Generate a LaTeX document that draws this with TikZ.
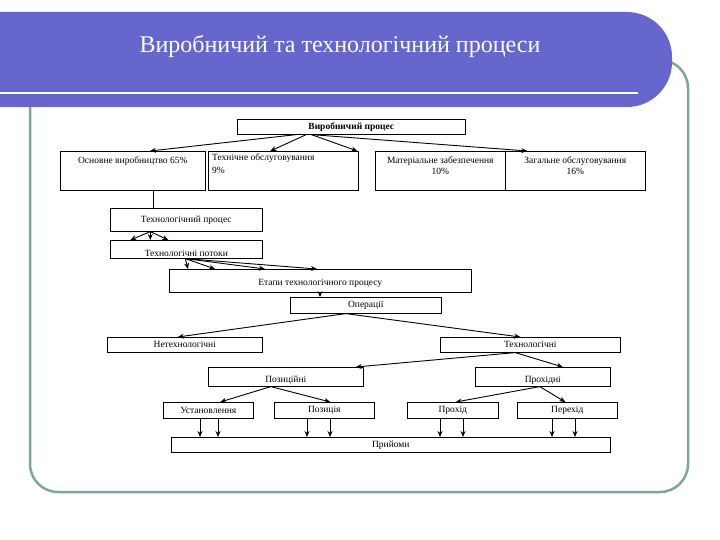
\documentclass[tikz,border=0pt]{standalone}
\usepackage{fontspec}
\setmainfont{Liberation Serif}
\usetikzlibrary{arrows.meta}
\definecolor{banner}{HTML}{6666CC}
\definecolor{frame}{HTML}{7FA59D}
\begin{document}
\begin{tikzpicture}[x=1pt,y=-1pt,
  bx/.style={draw,line width=0.6pt,font=\fontsize{9.5}{10}\selectfont,inner sep=1pt},
  tx/.style={font=\fontsize{9.5}{11}\selectfont,inner sep=1pt},
  ar/.style={-{Stealth[length=6pt,width=5pt]},line width=0.9pt}]
\useasboundingbox (0,0) rectangle (720,540);
\fill[white] (0,0) rectangle (720,540);
% frame
\draw[frame,line width=2.5pt,rounded corners=28pt] (30,60) rectangle (688,492);
% banner
\fill[banner,rounded corners=45pt] (-60,12) rectangle (672,107);
\draw[white,line width=2pt] (0,93) -- (638,93);
\node[white,font=\fontsize{24}{26}\selectfont] (title) at (340,46) {Виробничий та технологічний процеси};
% boxes
\node[bx,anchor=north west,minimum width=228,minimum height=15,font=\bfseries\fontsize{9.5}{10}\selectfont] (vp) at (237,119) {Виробничий процес};
\node[bx,anchor=north west,minimum width=145,minimum height=39] (osn) at (60,151) {};
\node[tx,anchor=north] (osnt) at ([yshift=-5pt]osn.north) {Основне виробництво 65\%};
\node[bx,anchor=north west,minimum width=150,minimum height=39] (teh) at (208,151) {};
\node[tx,anchor=north west,align=left] (teht) at ([xshift=3pt,yshift=-2pt]teh.north west) {Технічне обслуговування\\[2pt]9\%};
\node[bx,anchor=north west,minimum width=130,minimum height=39] (mat) at (375,151) {};
\node[tx,anchor=north,align=center] (matt) at ([yshift=-5pt]mat.north) {Матеріальне забезпечення\\10\%};
\node[bx,anchor=north west,minimum width=140,minimum height=39] (zag) at (505,151) {};
\node[tx,anchor=north,align=center] (zagt) at ([yshift=-5pt]zag.north) {Загальне обслуговування\\16\%};
\node[bx,anchor=north west,minimum width=152,minimum height=23] (tp) at (110,208) {Технологічний процес};
\node[bx,anchor=north west,minimum width=152,minimum height=18] (pot) at (110,240) {};
\node[tx,anchor=south] at ([yshift=1pt]pot.south) {Технологічні потоки};
\node[bx,anchor=north west,minimum width=302,minimum height=23] (et) at (169,269) {};
\node[tx,anchor=south] at ([yshift=4pt]et.south) {Етапи технологічного процесу};
\node[bx,anchor=north west,minimum width=151,minimum height=16] (op) at (290,297) {Операції};
\node[bx,anchor=north west,minimum width=155,minimum height=15] (neteh) at (107,337) {Нетехнологічні};
\node[bx,anchor=north west,minimum width=180,minimum height=15] (tehn) at (440,337) {Технологічні};
\node[bx,anchor=north west,minimum width=155,minimum height=19] (poz) at (208,367) {};
\node[tx,anchor=south] at ([yshift=1pt]poz.south) {Позиційні};
\node[bx,anchor=north west,minimum width=135,minimum height=19] (proh) at (475,367) {};
\node[tx,anchor=south] at ([yshift=1pt]proh.south) {Прохідні};
\node[bx,anchor=north west,minimum width=90,minimum height=16] (ust) at (163,402) {Установлення};
\node[bx,anchor=north west,minimum width=100,minimum height=16] (pozc) at (274,402) {Позиція};
\node[bx,anchor=north west,minimum width=91,minimum height=16] (pr) at (407,402) {Прохід};
\node[bx,anchor=north west,minimum width=100,minimum height=16] (per) at (517,402) {Перехід};
\node[bx,anchor=north west,minimum width=439,minimum height=15] (pri) at (171,437) {Прийоми};
% arrows
\draw[ar] ([xshift=-55pt]vp.south) -- (osn.north -| 150,0);
\draw[ar] ([xshift=-45pt]vp.south) -- ([xshift=-13pt]teh.north);
\draw[ar] ([xshift=-40pt]vp.south) -- ([xshift=-83pt]mat.north);
\draw[ar] ([xshift=-40pt]vp.south) -- ([xshift=-48pt]zag.north);
\draw[line width=0.6pt] (osn.south -| 153,0) -- (tp.north -| 153,0);
\draw[ar] ([xshift=-36pt]tp.south) -- ([xshift=-56pt]pot.north);
\draw[ar] ([xshift=-36pt]tp.south) -- ([xshift=-36pt]pot.north);
\draw[ar] ([xshift=-36pt]tp.south) -- ([xshift=-18pt]pot.north);
\foreach \t in {19,46,96,148}{\draw[ar] ([xshift=-1pt]pot.south) -- ([xshift=\t pt]et.north west);}
\draw[ar] ([xshift=151pt]et.south west) -- (op.north -| 320,0);
\draw[ar] ([xshift=-20pt]op.south) -- ([xshift=-7pt]neteh.north);
\draw[ar] ([xshift=-20pt]op.south) -- ([xshift=-10pt]tehn.north);
\draw[ar] ([xshift=-15pt]tehn.south) -- ([xshift=70pt]poz.north);
\draw[ar] ([xshift=-15pt]tehn.south) -- ([xshift=20pt]proh.north);
\draw[ar] ([xshift=-15pt]poz.south) -- ([xshift=12pt]ust.north);
\draw[ar] ([xshift=-15pt]poz.south) -- ([xshift=6pt]pozc.north);
\draw[ar] ([xshift=-3pt]proh.south) -- ([xshift=3pt]pr.north);
\draw[ar] ([xshift=-3pt]proh.south) -- ([xshift=-2pt]per.north);
\foreach \x in {200,218,307,330,440,463,552,575}{\draw[ar] (ust.south -| \x,0) -- (pri.north -| \x,0);}
\end{tikzpicture}
\end{document}
